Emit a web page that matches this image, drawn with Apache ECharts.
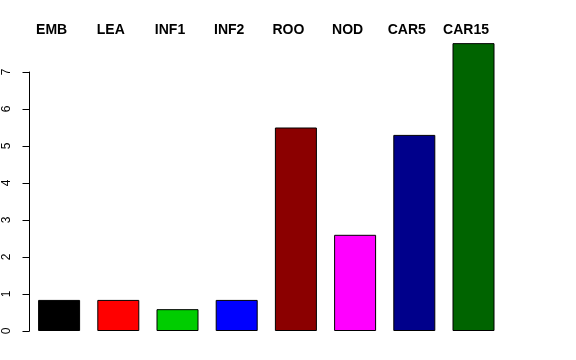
<!DOCTYPE html>
<html>
<head>
<meta charset="utf-8">
<script src="https://cdn.jsdelivr.net/npm/echarts@6/dist/echarts.min.js"></script>
<style>html,body{margin:0;padding:0;background:#fff}#c{width:576px;height:360px}</style>
</head>
<body>
<div id="c"></div>
<script>
const categories = ['EMB', 'LEA', 'INF1', 'INF2', 'ROO', 'NOD', 'CAR5', 'CAR15'];
const values = [0.84, 0.84, 0.59, 0.84, 5.5, 2.6, 5.3, 7.78];
const yTicks = [0, 1, 2, 3, 4, 5, 6, 7];
const barColors = ['#000000', '#FF0000', '#00CD00', '#0000FF', '#8B0000', '#FF00FF', '#00008B', '#006400'];

const chart = echarts.init(document.getElementById('c'), null, {renderer: 'canvas'});
chart.setOption({
  animation: false,
  backgroundColor: '#ffffff',
  grid: {left: 29.5, top: 72, bottom: 29, width: 473.6, containLabel: false},
  xAxis: {
    type: 'category',
    position: 'top',
    data: categories,
    axisLine: {show: false},
    axisTick: {show: false},
    axisLabel: {
      interval: 0,
      hideOverlap: false,
      margin: 35,
      fontFamily: 'Liberation Sans, Arial, sans-serif',
      fontWeight: 'bold',
      fontSize: 14,
      color: '#000',
      padding: [0, 15, 0, 0]
    },
    splitLine: {show: false}
  },
  yAxis: {
    type: 'value',
    min: yTicks[0],
    max: yTicks[yTicks.length - 1],
    interval: 1,
    axisLine: {show: true, lineStyle: {color: '#000', width: 1}},
    axisTick: {show: true, length: 7, lineStyle: {color: '#000'}},
    axisLabel: {
      rotate: 90,
      margin: 17,
      fontFamily: 'Liberation Sans, Arial, sans-serif',
      fontSize: 12,
      color: '#000'
    },
    splitLine: {show: false}
  },
  series: [{
    type: 'bar',
    clip: false,
    barWidth: 42,
    data: values.map((v, i) => ({
      value: v,
      itemStyle: {color: barColors[i], borderColor: '#000', borderWidth: 1}
    }))
  }]
});
</script>
</body>
</html>
